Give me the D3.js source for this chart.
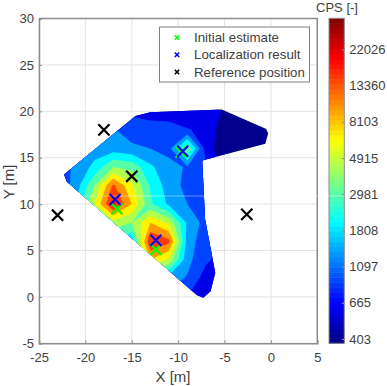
<!DOCTYPE html>
<html>
<head>
<meta charset="utf-8">
<script src="https://cdn.jsdelivr.net/npm/d3@7"></script>
<style>
  html, body { margin: 0; padding: 0; background: #fff; }
  text { font-family: "Liberation Sans", Arial, sans-serif; fill: #404040; }
</style>
</head>
<body>
<svg id="chart"></svg>
<script>
// measured field, columns run along gridX, rows along gridY
const gridX = [-23, -21, -19, -17, -15, -13, -11, -9, -7, -5, -3, -1, 1];
const gridY = [22, 20, 18, 16, 14, 12, 10, 8, 6, 4, 2, 0, -2];
const cps = [
  [898, 898, 898, 898, 898, 652, 652, 652, 602, 578, 473, 473, 473],
  [898, 898, 1097, 1237, 830, 736, 736, 736, 652, 590, 473, 473, 473],
  [1339, 1339, 1451, 1394, 1097, 1097, 1053, 916, 830, 454, 454, 454, 454],
  [1339, 1339, 1636, 1636, 1451, 1339, 1188, 4447, 736, 454, 454, 454, 454],
  [1097, 1451, 2252, 4447, 3944, 2164, 1510, 1287, 972, 513, 602, 602, 602],
  [898, 1636, 4447, 15994, 7188, 2864, 1636, 1188, 1012, 736, 602, 602, 602],
  [898, 1998, 6634, 24800, 9897, 3229, 1845, 1339, 972, 736, 602, 602, 602],
  [898, 1998, 2981, 5432, 4447, 9897, 6124, 1845, 1140, 736, 602, 602, 602],
  [898, 1339, 1998, 2981, 1998, 22026, 16647, 1636, 1053, 736, 602, 602, 602],
  [898, 898, 1339, 1998, 2981, 9897, 6124, 1510, 972, 736, 602, 602, 602],
  [898, 898, 898, 1339, 1998, 2981, 1636, 1287, 736, 736, 602, 602, 602],
  [898, 898, 898, 898, 898, 1339, 1097, 898, 830, 736, 602, 602, 602],
  [736, 736, 736, 736, 736, 736, 736, 736, 736, 736, 602, 602, 602]
];
// outline of the surveyed area
const areaOutline = [
  [-22.3, 13.2], [-14.6, 19.5], [-13, 19.9], [-5.3, 20.2], [-0.5, 18.1], [-0.3, 17.6],
  [-0.6, 16.5], [-7.4, 14.7], [-7.1, 8.4], [-6, 2.6], [-6.5, 0.6], [-7.3, -0.1],
  [-8, 0.2], [-22, 12.4]
];
const initialEstimate = [[-16.6, 9.5], [-12.4, 5.1], [-9.7, 15.6]];
const localization = [[-16.8, 10.5], [-12.4, 6.1], [-9.5, 15.7]];
const referencePos = [[-18, 18], [-15, 13], [-23, 8.8], [-2.6, 8.9]];
const xTicks = [-25, -20, -15, -10, -5, 0, 5];
const yTicks = [-5, 0, 5, 10, 15, 20, 25, 30];
const cbarTicks = [403, 665, 1097, 1808, 2981, 4915, 8103, 13360, 22026];
const legendItems = ["Initial estimate", "Localization result", "Reference position"];
const legendColors = ["#00ff00", "#0000ff", "#000000"];

const width = 387, height = 386;
const svg = d3.select("#chart").attr("width", width).attr("height", height)
  .style("display", "block");

const xScale = d3.scaleLinear().domain([-25, 5]).range([39, 317.3]);
const yScale = d3.scaleLinear().domain([-5, 30]).range([343.3, 18.5]);
const logMin = 5.94, logMax = 10.43;
const cbarScale = d3.scaleLinear().domain([logMin, logMax]).range([343.3, 18.3]);

// classic jet ramp
function jet(f) {
  const c = v => Math.round(255 * Math.max(0, Math.min(1, v)));
  const r = Math.min(4 * f - 1.5, -4 * f + 4.5);
  const g = Math.min(4 * f - 0.5, -4 * f + 3.5);
  const b = Math.min(4 * f + 0.5, -4 * f + 2.5);
  return `rgb(${c(r)},${c(g)},${c(b)})`;
}
const colorOf = v => jet((v - logMin) / (logMax - logMin));

const axisColor = "#8c8c8c";

// grid under everything
const grid = svg.append("g").attr("stroke", "#e4e4e4").attr("stroke-width", 1);
grid.selectAll("line.gx").data(xTicks).join("line")
  .attr("x1", d => xScale(d)).attr("x2", d => xScale(d))
  .attr("y1", yScale.range()[0]).attr("y2", yScale.range()[1]);
grid.selectAll("line.gy").data(yTicks).join("line")
  .attr("y1", d => yScale(d)).attr("y2", d => yScale(d))
  .attr("x1", xScale.range()[0]).attr("x2", xScale.range()[1]);

// filled contours, painted low to high and clipped to the area
const line = d3.line().x(d => xScale(d[0])).y(d => yScale(d[1]));
svg.append("clipPath").attr("id", "area-clip").append("path")
  .attr("d", line(areaOutline) + "Z");

const levels = d3.range(0, 11).map(i => 6 + 0.4 * i);
const contours = d3.contours()
  .size([gridX.length, gridY.length])
  .smooth(true)
  .thresholds(levels)(cps.flat().map(Math.log));

const stepX = gridX[1] - gridX[0], stepY = gridY[1] - gridY[0];
const toData = d3.geoTransform({
  point(x, y) {
    this.stream.point(
      xScale(gridX[0] + (x - 0.5) * stepX),
      yScale(gridY[0] + (y - 0.5) * stepY));
  }
});
const contourPath = d3.geoPath(toData);

svg.append("g").attr("clip-path", "url(#area-clip)")
  .selectAll("path").data(contours).join("path")
  .attr("d", contourPath)
  .attr("fill", d => colorOf(d.value));

// axes
const xAxis = d3.axisBottom(xScale).tickValues(xTicks).tickSize(-3).tickPadding(9).tickFormat(d => d);
const yAxis = d3.axisLeft(yScale).tickValues(yTicks).tickSize(-3).tickPadding(5).tickFormat(d => d);
const xAxisG = svg.append("g").attr("transform", `translate(0,${yScale.range()[0]})`).call(xAxis);
const yAxisG = svg.append("g").attr("transform", `translate(${xScale.range()[0]},0)`).call(yAxis);
[xAxisG, yAxisG].forEach(g => {
  g.attr("font-family", null);
  g.selectAll("text").attr("font-size", 13);
  g.selectAll("line,path").attr("stroke", axisColor);
  g.select("path").attr("stroke-width", 1.5);
});
// box, top and right
svg.append("path")
  .attr("d", `M${xScale.range()[0]},${yScale.range()[1]}H${xScale.range()[1]}V${yScale.range()[0]}`)
  .attr("fill", "none").attr("stroke", axisColor).attr("stroke-width", 1.5);

svg.append("text").attr("x", 173).attr("y", 382).attr("text-anchor", "middle")
  .attr("font-size", 15).text("X [m]");
svg.append("text").attr("transform", "translate(14,182) rotate(-90)").attr("text-anchor", "middle")
  .attr("font-size", 15).text("Y [m]");

// colorbar
const cbarX = 329, cbarW = 15.3;
const cbarSteps = d3.range(64);
const cbar = svg.append("g");
cbar.selectAll("rect").data(cbarSteps).join("rect")
  .attr("x", cbarX).attr("width", cbarW)
  .attr("y", i => cbarScale(logMin + (i + 1) * (logMax - logMin) / 64))
  .attr("height", (cbarScale.range()[0] - cbarScale.range()[1]) / 64 + 0.5)
  .attr("fill", i => jet((i + 0.5) / 64));
cbar.append("rect").attr("x", cbarX).attr("width", cbarW)
  .attr("y", cbarScale.range()[1]).attr("height", cbarScale.range()[0] - cbarScale.range()[1])
  .attr("fill", "none").attr("stroke", axisColor);
const cbarAxis = d3.axisRight(cbarScale)
  .tickValues(cbarTicks.map(Math.log)).tickSize(-2.5).tickPadding(5)
  .tickFormat((d, i) => cbarTicks[i]);
const cbarG = svg.append("g").attr("transform", `translate(${cbarX + cbarW},0)`).call(cbarAxis);
cbarG.select("path").remove();
cbarG.attr("font-family", null);
cbarG.selectAll("text").attr("font-size", 13);
cbarG.selectAll("line").attr("stroke", axisColor);
svg.append("text").attr("x", 337).attr("y", 12).attr("text-anchor", "middle")
  .attr("font-size", 13).text("CPS [-]");

// faint pale streak the source image has across map and colorbar
svg.append("line").attr("x1", 39).attr("x2", cbarX + cbarW).attr("y1", 196).attr("y2", 196)
  .attr("stroke", "#fff").attr("stroke-opacity", 0.4);

// crosses
function drawCrosses(points, color, size, weight) {
  svg.append("g").attr("fill", "none").attr("stroke", color).attr("stroke-width", weight)
    .selectAll("path").data(points).join("path")
    .attr("d", d => {
      const x = xScale(d[0]), y = yScale(d[1]);
      return `M${x - size},${y - size}L${x + size},${y + size}M${x - size},${y + size}L${x + size},${y - size}`;
    });
}
drawCrosses(initialEstimate, legendColors[0], 5.5, 2);
drawCrosses(referencePos, legendColors[2], 5.6, 2.2);
drawCrosses(localization, legendColors[1], 5.5, 2);

// legend
const legend = svg.append("g");
legend.append("rect").attr("x", 159.5).attr("y", 27).attr("width", 150).attr("height", 55)
  .attr("fill", "#fff").attr("stroke", "#808080");
const legendRow = d3.scalePoint().domain(legendItems).range([37.5, 72]);
legendItems.forEach((name, i) => {
  const y = legendRow(name), x = 177, s = 2.2;
  legend.append("path")
    .attr("d", `M${x - s},${y - s}L${x + s},${y + s}M${x - s},${y + s}L${x + s},${y - s}`)
    .attr("stroke", legendColors[i]).attr("stroke-width", 1.6);
  legend.append("text").attr("x", 194).attr("y", y + 4.5).attr("font-size", 13.3).text(name);
});
</script>
</body>
</html>
